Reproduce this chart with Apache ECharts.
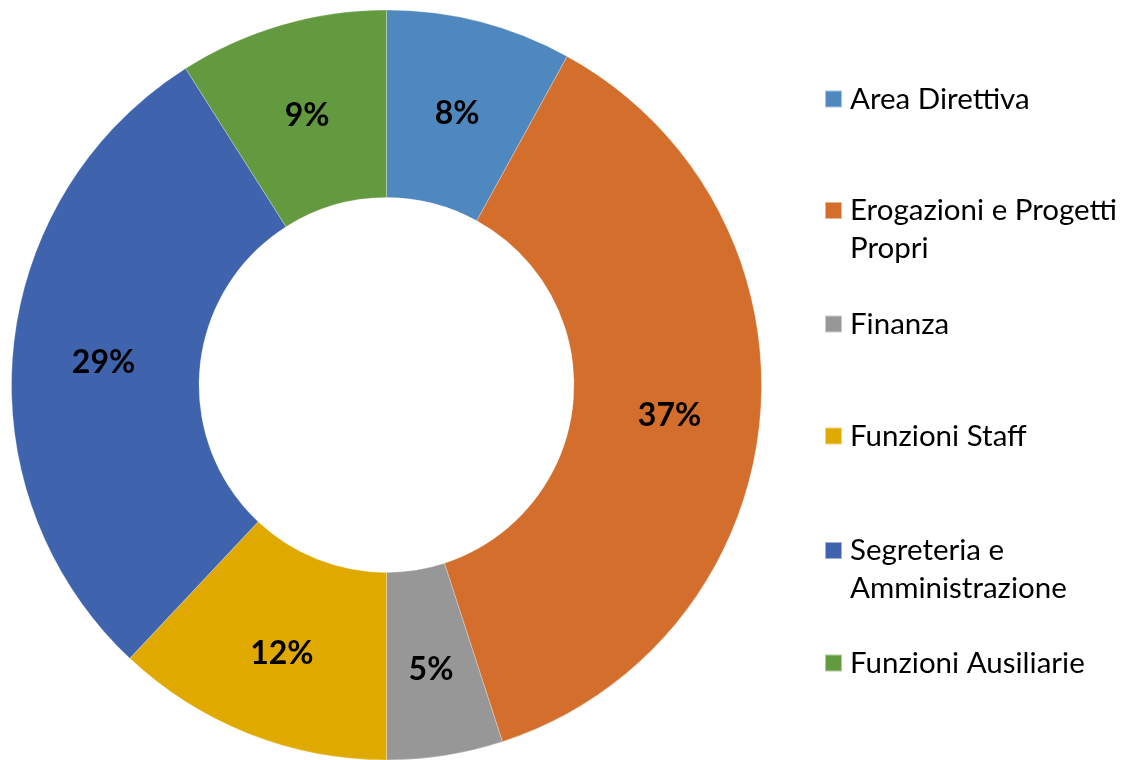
<!DOCTYPE html>
<html>
<head>
<meta charset="utf-8">
<script src="https://cdn.jsdelivr.net/npm/echarts@6/dist/echarts.min.js"></script>
<style>
html,body{margin:0;padding:0;background:#fff;}
#chart{width:1133px;height:760px;}
</style>
</head>
<body>
<div id="chart"></div>
<script>
const categories = ['Area Direttiva', 'Erogazioni e Progetti Propri', 'Finanza', 'Funzioni Staff', 'Segreteria e Amministrazione', 'Funzioni Ausiliarie'];
const legendLabels = ['Area Direttiva', 'Erogazioni e Progetti\nPropri', 'Finanza', 'Funzioni Staff', 'Segreteria e\nAmministrazione', 'Funzioni Ausiliarie'];
const values = [8, 37, 5, 12, 29, 9];
const colors = ['#4F88BF', '#D36E2C', '#979797', '#E0A900', '#3F64AD', '#639A3F'];
const legendIconCenters = [99, 210.5, 324, 436, 550.5, 663];

const chart = echarts.init(document.getElementById('chart'), null, {renderer: 'canvas'});

const legends = categories.map((name, i) => {
  const twoLine = legendLabels[i].indexOf('\n') >= 0;
  return {
    data: [name],
    orient: 'vertical',
    left: 824,
    top: legendIconCenters[i] - (twoLine ? 57 : 19),
    padding: 0,
    itemWidth: 17,
    itemHeight: 17,
    icon: 'rect',
    selectedMode: false,
    formatter: () => (twoLine ? ' \n' : '') + legendLabels[i],
    textStyle: {
      fontFamily: 'Lato',
      fontSize: 29.5,
      lineHeight: 38,
      color: '#000',
      padding: [0, 0, 0, 3]
    }
  };
});

chart.setOption({
  animation: false,
  color: colors,
  legend: legends,
  series: [{
    type: 'pie',
    center: [386.5, 385],
    radius: [187.5, 375],
    startAngle: 90,
    clockwise: true,
    avoidLabelOverlap: false,
    itemStyle: {borderColor: 'rgba(255,255,255,0.5)', borderWidth: 0.5},
    label: {
      show: true,
      position: 'inside',
      formatter: p => Math.round(p.percent) + '%',
      fontFamily: 'Lato',
      fontWeight: 'bold',
      fontSize: 32,
      color: '#000'
    },
    labelLayout: {dy: 4},
    labelLine: {show: false},
    emphasis: {disabled: true},
    data: categories.map((name, i) => ({name: name, value: values[i]}))
  }]
});
</script>
</body>
</html>
